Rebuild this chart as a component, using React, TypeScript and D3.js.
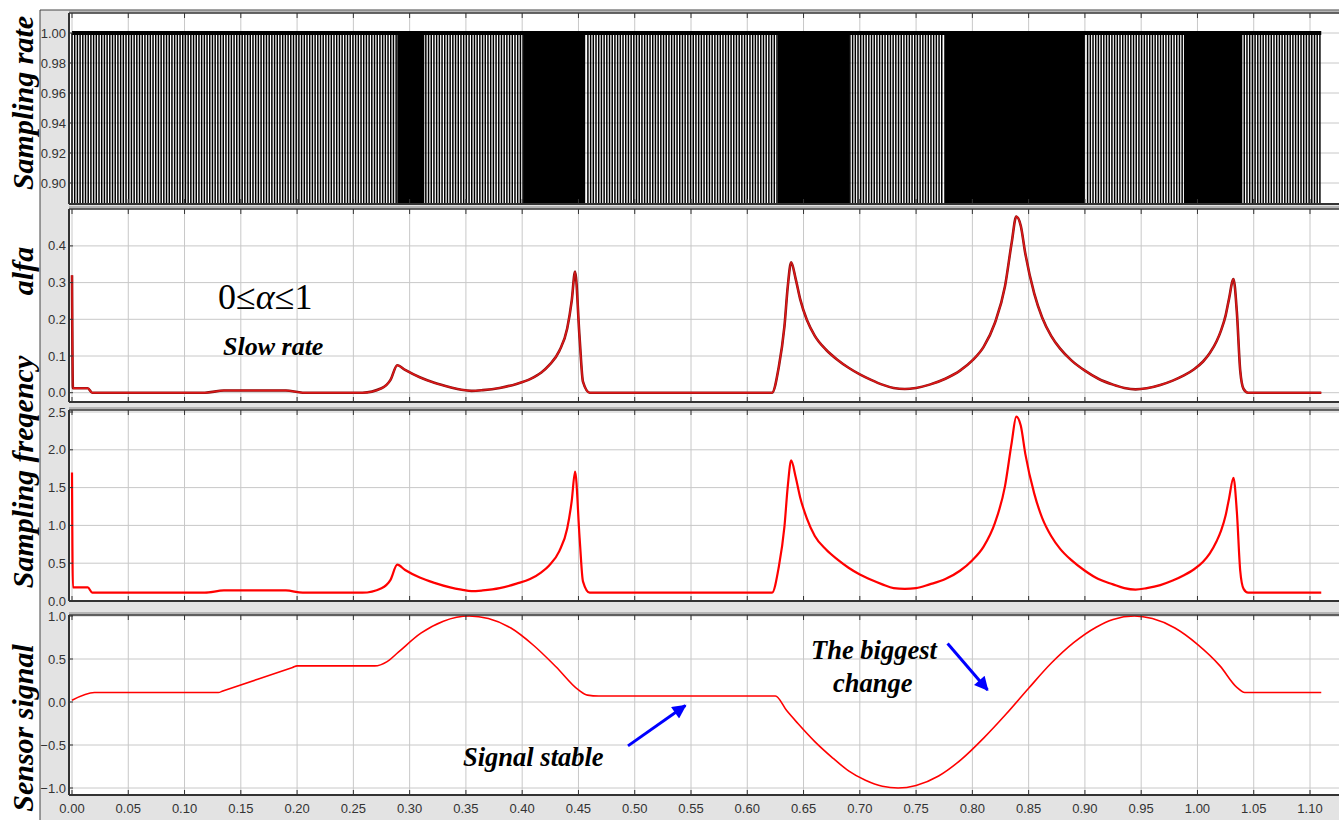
import React from 'react';
import * as d3 from 'd3';

// tick values
const xTicks = [0.0, 0.05, 0.1, 0.15, 0.2, 0.25, 0.3, 0.35, 0.4, 0.45, 0.5, 0.55,
  0.6, 0.65, 0.7, 0.75, 0.8, 0.85, 0.9, 0.95, 1.0, 1.05, 1.1];
const rateTicks = [0.9, 0.92, 0.94, 0.96, 0.98, 1.0];
const alfaTicks = [0.0, 0.1, 0.2, 0.3, 0.4];
const freqTicks = [0.0, 0.5, 1.0, 1.5, 2.0, 2.5];
const signalTicks = [-1.0, -0.5, 0.0, 0.5, 1.0];

// sampling rate: intervals where samples are taken fast (solid black), slow step elsewhere
const fastSampling = [[0.289, 0.313], [0.401, 0.456], [0.627, 0.691], [0.775, 0.9], [0.988, 1.039]];
const slowStep = 0.0024;
const sampleEnd = 1.11;

// alfa and sampling frequency
const curveTimes = [0, 0.0008, 0.014, 0.018, 0.118, 0.135, 0.19, 0.205, 0.258, 0.275, 0.283, 0.289,
  0.296, 0.309, 0.322, 0.336, 0.346, 0.355, 0.365, 0.38, 0.395, 0.407, 0.417, 0.424, 0.433, 0.44,
  0.444, 0.447, 0.451, 0.454, 0.46,
  0.622, 0.628, 0.633, 0.636, 0.639, 0.643, 0.647, 0.653, 0.66, 0.67, 0.68, 0.69, 0.7, 0.71,
  0.72, 0.73, 0.74, 0.75, 0.762, 0.776, 0.789, 0.8, 0.81, 0.82, 0.829, 0.835, 0.839, 0.843, 0.847,
  0.855, 0.862, 0.87, 0.878, 0.888, 0.9, 0.912, 0.925, 0.935, 0.945, 0.955, 0.967, 0.978, 0.988,
  0.997, 1.005, 1.011, 1.017, 1.021, 1.025, 1.028, 1.032, 1.035, 1.038, 1.041, 1.045, 1.11];
const alfaValues = [0.32, 0.012, 0.012, 0.0, 0.0, 0.006, 0.006, 0.0, 0.0, 0.012, 0.035, 0.075,
  0.062, 0.042, 0.027, 0.015, 0.008, 0.005, 0.007, 0.013, 0.024, 0.037, 0.055, 0.075, 0.114, 0.175,
  0.25, 0.33, 0.15, 0.03, 0.0,
  0.0, 0.07, 0.18, 0.29, 0.355, 0.31, 0.255, 0.198, 0.155, 0.117, 0.09, 0.068, 0.05, 0.035,
  0.022, 0.013, 0.01, 0.013, 0.022, 0.038, 0.06, 0.088, 0.125, 0.19, 0.29, 0.41, 0.48, 0.455, 0.38,
  0.27, 0.205, 0.155, 0.12, 0.088, 0.06, 0.038, 0.022, 0.013, 0.009, 0.012, 0.021, 0.033, 0.047,
  0.064, 0.085, 0.108, 0.14, 0.17, 0.21, 0.255, 0.31, 0.22, 0.06, 0.01, 0.0, 0.0];
const freqValues = [1.7, 0.18, 0.18, 0.11, 0.11, 0.14, 0.14, 0.11, 0.11, 0.17, 0.28, 0.48,
  0.41, 0.31, 0.24, 0.18, 0.15, 0.13, 0.14, 0.17, 0.23, 0.29, 0.38, 0.47, 0.66, 0.96,
  1.32, 1.71, 0.84, 0.26, 0.11,
  0.11, 0.45, 0.98, 1.52, 1.86, 1.64, 1.37, 1.09, 0.86, 0.68, 0.55, 0.44, 0.35, 0.28,
  0.22, 0.17, 0.16, 0.17, 0.22, 0.29, 0.4, 0.54, 0.72, 1.03, 1.52, 2.1, 2.44, 2.32, 1.95,
  1.42, 1.1, 0.86, 0.69, 0.54, 0.4, 0.29, 0.22, 0.17, 0.15, 0.17, 0.21, 0.27, 0.34,
  0.42, 0.52, 0.63, 0.79, 0.93, 1.13, 1.35, 1.63, 1.18, 0.4, 0.16, 0.11, 0.11];

// sensor signal
const signalTimes = [0, 0.02, 0.13, 0.134, 0.196, 0.2, 0.269, 0.28, 0.29, 0.31, 0.33, 0.353, 0.37,
  0.39, 0.41, 0.43, 0.45, 0.458, 0.468, 0.625, 0.635, 0.645, 0.66, 0.675, 0.69, 0.705, 0.72, 0.734,
  0.75, 0.77, 0.79, 0.81, 0.83, 0.85, 0.87, 0.89, 0.91, 0.925, 0.944, 0.96, 0.98, 1.0, 1.02, 1.035,
  1.042, 1.11];
const signalValues = [0.02, 0.11, 0.11, 0.128, 0.402, 0.42, 0.42, 0.47, 0.58, 0.8, 0.94, 1.0, 0.97,
  0.86, 0.66, 0.41, 0.14, 0.08, 0.07, 0.07, -0.1, -0.25, -0.46, -0.64, -0.8, -0.91, -0.98, -1.0,
  -0.97, -0.86, -0.67, -0.42, -0.14, 0.16, 0.45, 0.69, 0.87, 0.96, 1.0, 0.97, 0.86, 0.67, 0.42, 0.17,
  0.11, 0.11];

const W = 1339;
const H = 820;
const plotLeft = 69;
const plotRight = 1339;
const serif = '"Liberation Serif", "Times New Roman", serif';
const sans = '"Liberation Sans", Arial, sans-serif';

const x = d3.scaleLinear().domain([0, 1.1]).range([72, 1310]);

function Panel({ top, bottom, y, ticks, fmt, label, labelY, children }) {
  return (
    <g>
      <rect x={plotLeft} y={top} width={plotRight - plotLeft} height={bottom - top} fill="#fff" />
      {xTicks.map(t => (
        <line key={'gx' + t} x1={x(t)} x2={x(t)} y1={top} y2={bottom} stroke="#c8c8c8" strokeWidth={1} />
      ))}
      {ticks.map(t => (
        <line key={'gy' + t} x1={plotLeft} x2={plotRight} y1={y(t)} y2={y(t)} stroke="#c8c8c8" strokeWidth={1} />
      ))}
      {children}
      {/* top border, double line */}
      <line x1={plotLeft} x2={plotRight} y1={top - 2} y2={top - 2} stroke="#888" strokeWidth={1} />
      <line x1={plotLeft} x2={plotRight} y1={top} y2={top} stroke="#333" strokeWidth={1.5} />
      {xTicks.map(t => (
        <line key={'tt' + t} x1={x(t)} x2={x(t)} y1={top} y2={top + 5} stroke="#333" strokeWidth={1} />
      ))}
      {/* bottom axis */}
      <line x1={plotLeft} x2={plotRight} y1={bottom} y2={bottom} stroke="#333" strokeWidth={2} />
      {xTicks.map(t => (
        <line key={'tb' + t} x1={x(t)} x2={x(t)} y1={bottom} y2={bottom - 5} stroke="#333" strokeWidth={1} />
      ))}
      {/* left axis */}
      <line x1={plotLeft} x2={plotLeft} y1={top} y2={bottom} stroke="#333" strokeWidth={2} />
      {ticks.map(t => (
        <g key={'ty' + t}>
          <line x1={plotLeft} x2={plotLeft + 4} y1={y(t)} y2={y(t)} stroke="#333" strokeWidth={1} />
          <text x={66} y={y(t)} dy="0.35em" textAnchor="end" fontFamily={sans} fontSize={13} fill="#333">
            {fmt(t)}
          </text>
        </g>
      ))}
      <text transform={`translate(33,${labelY}) rotate(-90)`} textAnchor="middle" fontFamily={serif}
        fontStyle="italic" fontWeight="bold" fontSize={30} fill="#000">{label}</text>
    </g>
  );
}

export default function App() {
  const yRate = d3.scaleLinear().domain([0.9, 1.0]).range([183, 33]);
  const yAlfa = d3.scaleLinear().domain([0, 0.4]).range([392.7, 245.9]);
  const yFreq = d3.scaleLinear().domain([0, 2.5]).range([601, 412]);
  const ySig = d3.scaleLinear().domain([-1, 1]).range([788, 616]);

  const inFast = t => fastSampling.some(([a, b]) => t >= a && t <= b);
  const slowSamples = d3.range(0, sampleEnd, slowStep).filter(t => !inFast(t));

  const alfaLine = d3.line().x(d => x(d[0])).y(d => yAlfa(d[1])).curve(d3.curveMonotoneX);
  const freqLine = d3.line().x(d => x(d[0])).y(d => yFreq(d[1])).curve(d3.curveMonotoneX);
  const sigLine = d3.line().x(d => x(d[0])).y(d => ySig(d[1])).curve(d3.curveMonotoneX);

  const alfaPts = curveTimes.map((t, i) => [t, alfaValues[i]]);
  const freqPts = curveTimes.map((t, i) => [t, freqValues[i]]);
  const sigPts = signalTimes.map((t, i) => [t, signalValues[i]]);

  const f2 = d3.format('.2f');
  const f1 = d3.format('.1f');

  const arrows = [
    { from: [0.494, -0.51], to: [0.545, -0.04] },
    { from: [0.778, 0.68], to: [0.8135, 0.14] },
  ];

  return (
    <svg width={W} height={H} style={{ position: 'absolute', left: 0, top: 0, background: '#fff' }}>
      <defs>
        <marker id="head" viewBox="0 0 10 10" refX="9" refY="5" markerWidth="16" markerHeight="14"
          markerUnits="userSpaceOnUse" orient="auto">
          <path d="M0,0 L10,5 L0,10 Z" fill="#0000ff" />
        </marker>
      </defs>
      <rect x={40} y={10} width={W - 40} height={H - 10} fill="#e3e3e3" />
      <line x1={40} x2={40} y1={10} y2={H} stroke="#444" strokeWidth={1} />
      <line x1={40} x2={W} y1={10} y2={10} stroke="#444" strokeWidth={1} />

      <Panel top={13} bottom={204} y={yRate} ticks={rateTicks} fmt={f2} label="Sampling rate" labelY={103}>
        {slowSamples.map((t, i) => (
          <line key={i} x1={x(t)} x2={x(t)} y1={yRate(1)} y2={204} stroke="#000" strokeWidth={1.5} />
        ))}
        {fastSampling.map(([a, b], i) => (
          <rect key={'f' + i} x={x(a)} y={yRate(1)} width={x(b) - x(a)} height={204 - yRate(1)} fill="#000" />
        ))}
        <line x1={x(0)} x2={x(sampleEnd)} y1={yRate(1)} y2={yRate(1)} stroke="#000" strokeWidth={4} />
      </Panel>

      <Panel top={209} bottom={402} y={yAlfa} ticks={alfaTicks} fmt={f1} label="alfa" labelY={271}>
        <path d={alfaLine(alfaPts)} fill="none" stroke="#8b1010" strokeWidth={2.6} />
        <path d={alfaLine(alfaPts)} fill="none" stroke="#e01818" strokeWidth={1.4} />
        <text x={218} y={309} fontFamily={serif} fontSize={36} fill="#000">
          0≤<tspan fontStyle="italic">α</tspan>≤1
        </text>
        <text x={223} y={355} fontFamily={serif} fontStyle="italic" fontWeight="bold" fontSize={26}>Slow rate</text>
      </Panel>

      <Panel top={410} bottom={601} y={yFreq} ticks={freqTicks} fmt={f1} label="Sampling freqency" labelY={472}>
        <path d={freqLine(freqPts)} fill="none" stroke="#ff0000" strokeWidth={2.2} />
      </Panel>

      <Panel top={615} bottom={795} y={ySig} ticks={signalTicks} fmt={f1} label="Sensor signal" labelY={728}>
        <path d={sigLine(sigPts)} fill="none" stroke="#ff0000" strokeWidth={1.6} />
        {arrows.map((a, i) => (
          <line key={i} x1={x(a.from[0])} y1={ySig(a.from[1])} x2={x(a.to[0])} y2={ySig(a.to[1])}
            stroke="#0000ff" strokeWidth={3} markerEnd="url(#head)" />
        ))}
        <text x={463} y={766} fontFamily={serif} fontStyle="italic" fontWeight="bold" fontSize={26.5}>Signal stable</text>
        <text x={811} y={659} fontFamily={serif} fontStyle="italic" fontWeight="bold" fontSize={26.5}>The biggest</text>
        <text x={833} y={692} fontFamily={serif} fontStyle="italic" fontWeight="bold" fontSize={26.5}>change</text>
      </Panel>

      {xTicks.map(t => (
        <text key={'xl' + t} x={x(t)} y={813} textAnchor="middle" fontFamily={sans} fontSize={13} fill="#333">
          {f2(t)}
        </text>
      ))}
    </svg>
  );
}
